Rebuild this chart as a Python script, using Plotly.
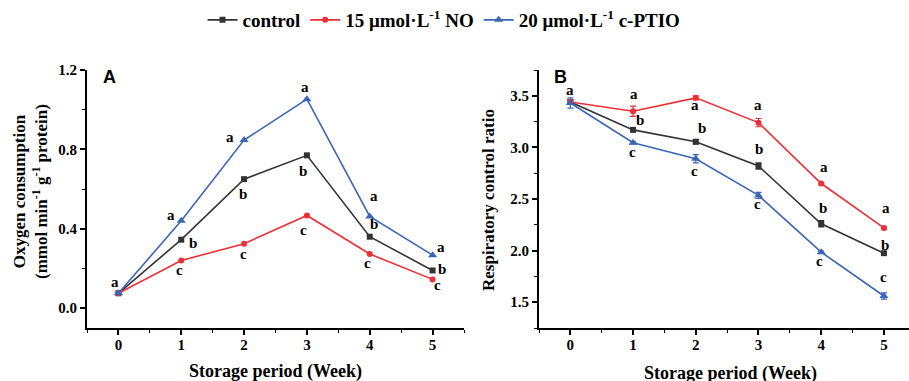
import plotly.graph_objects as go

weeks = [0, 1, 2, 3, 4, 5]

# Panel A: oxygen consumption
oxy_control = [0.075, 0.345, 0.650, 0.770, 0.360, 0.190]
oxy_no = [0.075, 0.240, 0.325, 0.467, 0.273, 0.145]
oxy_ptio = [0.075, 0.440, 0.847, 1.053, 0.462, 0.267]

# Panel B: respiratory control ratio
rcr_control = [3.44, 3.17, 3.055, 2.82, 2.26, 1.975]
rcr_no = [3.44, 3.35, 3.48, 3.24, 2.65, 2.22]
rcr_ptio = [3.43, 3.045, 2.89, 2.535, 1.985, 1.56]
rcr_control_err = [0.02, 0.01, 0.02, 0.03, 0.03, 0.01]
rcr_no_err = [0.02, 0.05, 0.02, 0.04, 0.01, 0.01]
rcr_ptio_err = [0.05, 0.01, 0.04, 0.03, 0.01, 0.03]

# significance letters: (x, y, text)
letters_a = [
    (-0.05, 0.13, "a"),
    (0.84, 0.467, "a"), (1.18, 0.33, "b"), (0.98, 0.19, "c"),
    (1.78, 0.864, "a"), (1.99, 0.576, "b"), (1.99, 0.273, "c"),
    (2.97, 1.115, "a"), (2.93, 0.69, "b"), (2.95, 0.395, "c"),
    (4.06, 0.563, "a"), (4.07, 0.425, "b"), (3.96, 0.23, "c"),
    (5.13, 0.307, "a"), (5.15, 0.197, "b"), (5.08, 0.116, "c"),
]
letters_b = [
    (0.0, 3.56, "a"),
    (1.02, 3.52, "a"), (1.11, 3.27, "b"), (0.99, 2.96, "c"),
    (1.98, 3.41, "a"), (2.10, 3.19, "b"), (1.98, 2.77, "c"),
    (3.0, 3.41, "a"), (3.01, 2.98, "b"), (2.98, 2.455, "c"),
    (4.05, 2.81, "a"), (4.03, 2.41, "b"), (3.97, 1.90, "c"),
    (5.03, 2.41, "a"), (5.02, 2.055, "b"), (5.0, 1.74, "c"),
]

names = ["control", "15 μmol·L<sup>-1</sup> NO", "20 μmol·L<sup>-1</sup> c-PTIO"]
colors = ["#333333", "#ee2f36", "#3a66b6"]
symbols = ["square", "circle", "triangle-up"]
msizes = [6, 6, 8]

SERIF = "Liberation Serif"
W, H = 909, 381

fig = go.Figure()

for i, ys in enumerate([oxy_control, oxy_no, oxy_ptio]):
    fig.add_trace(go.Scatter(
        x=weeks, y=ys, mode="lines+markers", name=names[i],
        line=dict(color=colors[i], width=1.6),
        marker=dict(symbol=symbols[i], size=msizes[i], color=colors[i]),
        xaxis="x", yaxis="y", showlegend=True, legendrank=i + 1))

for i, (ys, es) in enumerate([(rcr_control, rcr_control_err), (rcr_no, rcr_no_err), (rcr_ptio, rcr_ptio_err)]):
    fig.add_trace(go.Scatter(
        x=weeks, y=ys, mode="lines+markers", name=names[i],
        line=dict(color=colors[i], width=1.6),
        marker=dict(symbol=symbols[i], size=msizes[i], color=colors[i]),
        error_y=dict(type="data", array=es, color=colors[i], thickness=1.2, width=3),
        xaxis="x2", yaxis="y2", showlegend=False))

ydom = [(H - 328) / H, (H - 70) / H]
axis_common = dict(
    showline=True, linecolor="black", linewidth=2, ticks="outside", ticklen=5,
    tickwidth=1.5, tickcolor="black", showgrid=False, zeroline=False,
    tickfont=dict(family=SERIF, size=15, color="black", weight="bold"),
    automargin=False, mirror=False,
)
minor_common = dict(ticks="outside", ticklen=3, tickwidth=1.2, tickcolor="black")

fig.update_layout(
    width=W, height=H, margin=dict(l=0, r=0, t=0, b=0),
    paper_bgcolor="white", plot_bgcolor="white",
    xaxis=dict(domain=[87 / W, 464 / W], range=[-0.5, 5.5], tickvals=weeks,
               minor=dict(dtick=0.5, tick0=0.5, **minor_common), ticklabelstandoff=-3,
               anchor="y", **axis_common),
    yaxis=dict(domain=ydom, range=[-0.1, 1.2], tickvals=[0.0, 0.4, 0.8, 1.2],
               ticktext=["0.0", "0.4", "0.8", "1.2"],
               minor=dict(dtick=0.2, tick0=0.2, **minor_common),
               anchor="x", **axis_common),
    xaxis2=dict(domain=[539 / W, 1.0], range=[-0.5, 5.4], tickvals=weeks,
                minor=dict(dtick=0.5, tick0=0.5, **minor_common), ticklabelstandoff=-3,
                anchor="y2", **axis_common),
    yaxis2=dict(domain=ydom, range=[1.25, 3.75], tickvals=[1.5, 2.0, 2.5, 3.0, 3.5],
                ticktext=["1.5", "2.0", "2.5", "3.0", "3.5"],
                minor=dict(dtick=0.25, tick0=0.25, **minor_common),
                anchor="x2", **axis_common),
    legend=dict(orientation="h", x=444 / W, xanchor="center", y=(H - 20) / H, yanchor="middle",
                font=dict(family=SERIF, size=19, color="black", weight="bold"),
                bgcolor="rgba(0,0,0,0)", itemwidth=30, tracegroupgap=0, traceorder="normal"),
)

anns = []
letter_font = dict(family=SERIF, size=15, color="black", weight="bold")
for (x, y, t) in letters_a:
    anns.append(dict(x=x, y=y, xref="x", yref="y", text=t, showarrow=False,
                     xanchor="center", yanchor="middle", font=letter_font))
for (x, y, t) in letters_b:
    anns.append(dict(x=x, y=y, xref="x2", yref="y2", text=t, showarrow=False,
                     xanchor="center", yanchor="middle", font=letter_font))

title_font = dict(family=SERIF, size=17, color="black", weight="bold")
xtitle_font = dict(family=SERIF, size=18, color="black", weight="bold")
panel_font = dict(family="Liberation Sans", size=18, color="black", weight="bold")


def paper_ann(px, py, text, font, angle=0):
    return dict(x=px / W, y=(H - py) / H, xref="paper", yref="paper", showarrow=False,
                xanchor="center", yanchor="middle", textangle=angle, text=text, font=font)


anns += [
    paper_ann(30, 192, "Oxygen consumption<br>(mmol min<sup>-1</sup> g<sup>-1</sup> protein)", title_font, -90),
    paper_ann(488, 200, "Respiratory control ratio", title_font, -90),
    paper_ann(275, 371, "Storage period (Week)", xtitle_font),
    paper_ann(730, 373, "Storage period (Week)", xtitle_font),
    paper_ann(109, 77, "A", panel_font),
    paper_ann(560, 77, "B", panel_font),
]
fig.update_layout(annotations=anns)

fig.write_html("out.html", config={"displayModeBar": False},
               post_script="document.body.style.margin='0px';document.body.style.padding='0px';")
